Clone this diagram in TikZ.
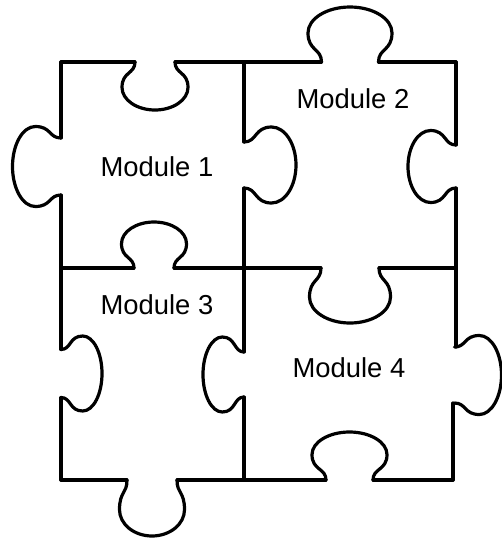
\documentclass[tikz,border=0pt]{standalone}
\usepackage{fontspec}
\setmainfont{Liberation Sans}
\usepackage{tikz}
\tikzset{
    seam/.style     = {line width=1.6pt, line join=round, line cap=round},
    modlabel/.style = {font=\fontsize{13.7}{16}\selectfont, inner sep=0pt, anchor=center}
}
% knob: centre x, centre y, rotation, neck half width, bulb half width, depth
\newcommand{\puzzleknob}[6]{%
    \draw[seam, shift={(#1,#2)}, rotate=#3]
        (-#4,0) .. controls (-#4,0.25*#6) and (-#5,0.2*#6) .. (-#5,0.53*#6)
                .. controls (-#5,0.79*#6) and (-0.55*#5,#6) .. (0,#6)
                .. controls (0.55*#5,#6) and (#5,0.79*#6) .. (#5,0.53*#6)
                .. controls (#5,0.2*#6) and (#4,0.25*#6) .. (#4,0);
}

\begin{document}
\begin{tikzpicture}[x=0.5pt, y=-0.5pt]
    \useasboundingbox (0,0) rectangle (502,538);

    % --- straight parts ---
    \draw[seam] (61,62) -- (135,62)  (175,62) -- (321.5,62)  (378.5,62) -- (456,62);
    \draw[seam] (456,62) -- (456,145)  (456,188) -- (456,347)  (453,403) -- (453,480);
    \draw[seam] (453,480) -- (373,480)  (326,480) -- (177,480)  (127,480) -- (61,480);
    \draw[seam] (61,480) -- (61,397.5)  (61,349.5) -- (61,195)  (61,138) -- (61,62);
    \draw[seam] (244,62) -- (244,142)  (244,188) -- (244,352)  (244,397) -- (244,480);
    \draw[seam] (61,268) -- (134,268)  (174,268) -- (321,268)  (379,268) -- (456,268);

    % --- knobs ---
    \puzzleknob{155}{62}{0}{20}{33}{48}
    \puzzleknob{350}{62}{180}{28.5}{42}{55}
    \puzzleknob{244}{165}{90}{23}{38}{52}
    \puzzleknob{456}{166.5}{-90}{21.5}{36}{48}
    \puzzleknob{61}{166.5}{-90}{28.5}{40}{48.5}
    \puzzleknob{154}{268}{180}{20}{32.5}{46}
    \puzzleknob{350}{268}{0}{29}{40.5}{55}
    \puzzleknob{61}{373.5}{90}{24}{37.5}{41}
    \puzzleknob{244}{374.5}{-90}{22.5}{37.5}{41}
    \puzzleknob{454.5}{375}{90}{28}{39.5}{47}
    \puzzleknob{152}{480}{0}{25}{32.5}{56}
    \puzzleknob{349.5}{480}{180}{23.5}{37.5}{48}

    % --- labels ---
    \node[modlabel] (mod1) at (157,167) {Module 1};
    \node[modlabel] (mod2) at (353,99)  {Module 2};
    \node[modlabel] (mod3) at (157,305) {Module 3};
    \node[modlabel] (mod4) at (349,368) {Module 4};
\end{tikzpicture}
\end{document}
